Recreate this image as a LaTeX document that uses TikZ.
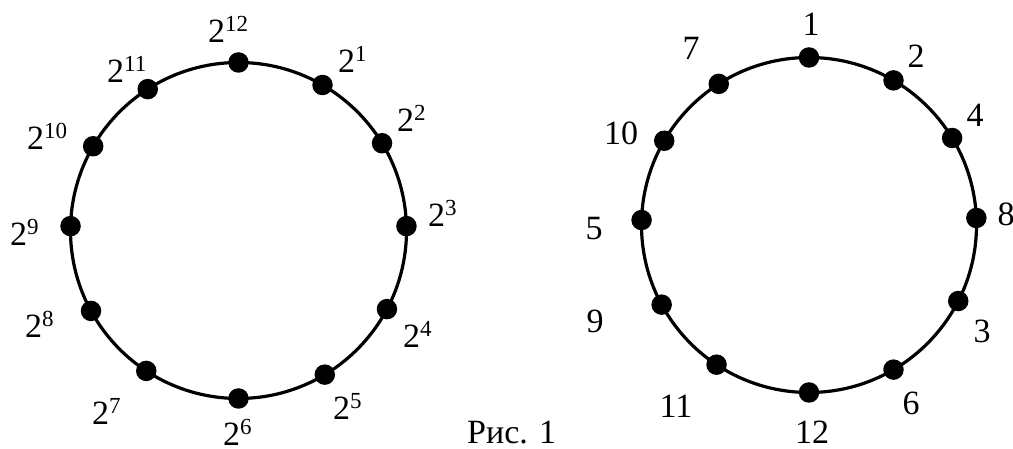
\documentclass[tikz,border=0pt]{standalone}
\usepackage{fontspec}
\setmainfont{Liberation Serif}
\newcommand\pw[1]{2\raisebox{11pt}{\fontsize{23}{23}\selectfont #1}}
\begin{document}
\begin{tikzpicture}[x=1pt,y=1pt,
  ring/.style={line width=3.2pt},
  dot/.style={circle,fill=black,inner sep=0pt,minimum size=20.5pt},
  lab/.style={inner sep=0pt,text depth=0pt,font=\fontsize{34}{40}\selectfont},
  labl/.style={lab,anchor=base west},
  labc/.style={lab,anchor=base}]
\useasboundingbox (0,0) rectangle (1013,449);
% left circle
\coordinate (L) at (238.5,218.5);
\draw[ring] (L) circle[radius=168];
\foreach \a/\n in {90/12,60/1,31.3/2,1.5/3,-27.9/4,-59.1/5,-90/6,-123.3/7,-151.4/8,178.5/9,149.9/10,122.7/11}
  \node[dot] (l\n) at ([shift={(\a:168)}]L) {};
\node[labl] (tl12) at (208,406) {\pw{12}};
\node[labl] (tl11) at (107,366) {\pw{11}};
\node[labl] (tl1) at (338,376) {\pw{1}};
\node[labl] (tl10) at (27,299) {\pw{10}};
\node[labl] (tl2) at (397,317) {\pw{2}};
\node[labl] (tl3) at (428,222) {\pw{3}};
\node[labl] (tl9) at (10,203) {\pw{9}};
\node[labl] (tl8) at (25,111) {\pw{8}};
\node[labl] (tl4) at (403,101) {\pw{4}};
\node[labl] (tl7) at (92,24) {\pw{7}};
\node[labl] (tl5) at (333,29) {\pw{5}};
\node[labl] (tl6) at (223,3) {\pw{6}};
% right circle
\coordinate (R) at (809,224);
\draw[ring] (R) circle[radius=167.5];
\foreach \a/\n in {90/1,59.7/2,31.3/4,2.4/8,-27/3,-59.7/6,-90/12,-123.5/11,-151.6/9,178.3/5,149.8/10,122.6/7}
  \node[dot] (r\n) at ([shift={(\a:167.5)}]R) {};
\node[labc] (tr1) at (811,413) {1};
\node[labc] (tr7) at (691,389) {7};
\node[labc] (tr2) at (916,381) {2};
\node[labc] (tr10) at (621,304) {10};
\node[labc] (tr4) at (975,322) {4};
\node[labc] (tr8) at (1006,223) {8};
\node[labc] (tr5) at (594,209) {5};
\node[labc] (tr9) at (595,116) {9};
\node[labc] (tr3) at (982,106) {3};
\node[labc] (tr11) at (676,31) {11};
\node[labc] (tr6) at (911,34) {6};
\node[labc] (tr12) at (812,5) {12};
\node[labl] (cap) at (467,5) {Рис. 1};
\end{tikzpicture}
\end{document}
